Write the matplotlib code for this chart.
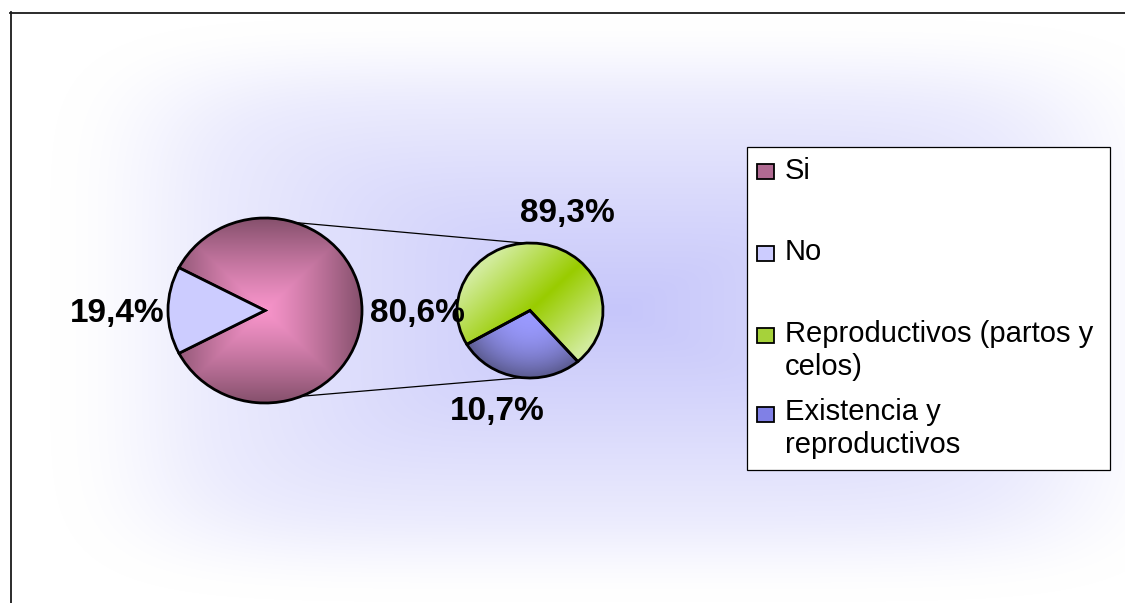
import numpy as np
import matplotlib.pyplot as plt
from matplotlib.colors import to_rgb

plt.rcParams['font.family'] = ['Liberation Sans', 'DejaVu Sans']

W, H = 1125, 603

# datos (porciones tal como se ven dibujadas; etiquetas como texto)
main_labels = ['Si', 'No']
main_values = [84.7, 15.3]
sub_labels = ['Reproductivos (partos y celos)', 'Existencia y reproductivos']
sub_values = [72.0, 28.0]
main_pct = ['80,6%', '19,4%']
sub_pct = ['89,3%', '10,7%']
legend_lines = [['Si'], ['No'], ['Reproductivos (partos y', 'celos)'],
                ['Existencia y', 'reproductivos']]
legend_colors = ['#b06a92', '#ccccff', '#a6d23a', '#8080e6']

left_box = (168, 218, 362, 403)
right_box = (457, 243, 603, 378)

fig = plt.figure(figsize=(W / 100, H / 100), dpi=100)

# fondo con brillo lila (degradado rectangular desde el centro)
bg = fig.add_axes([0, 0, 1, 1])
bg.set_xlim(0, W)
bg.set_ylim(H, 0)
bg.axis('off')
xx, yy = np.meshgrid(np.arange(W) + 0.5, np.arange(H) + 0.5)
u = np.abs(xx - 620) / 570
v = np.abs(yy - 310) / 292
d = (u ** 6 + v ** 6) ** (1 / 6)
e = np.clip((1 - d) / 0.3, 0, 1)
I = np.clip(1 - d, 0, 1) ** 0.85 * (e * e * (3 - 2 * e)) ** 0.5
full = np.array([198, 198, 250]) / 255
img = 1 - I[..., None] * (1 - full)
bg.imshow(img, extent=(0, W, H, 0), aspect='auto', interpolation='bilinear')
bg.plot([10.5, 10.5], [12, H], color='#1a1a1a', lw=1.3)
bg.plot([10, W], [12.5, 12.5], color='#1a1a1a', lw=1.3)


def px_axes(box):
    x0, y0, x1, y1 = box
    return fig.add_axes([x0 / W, 1 - y1 / H, (x1 - x0) / W, (y1 - y0) / H])


def edge_pt(box, ang):
    x0, y0, x1, y1 = box
    cx, cy = (x0 + x1) / 2, (y0 + y1) / 2
    a = np.radians(ang)
    return cx + (x1 - x0) / 2 * np.cos(a), cy - (y1 - y0) / 2 * np.sin(a)


def lerp(c1, c2, t):
    c1, c2 = np.array(to_rgb(c1)), np.array(to_rgb(c2))
    return c1 + (c2 - c1) * np.clip(t, 0, 1)[..., None]


g = np.linspace(-1, 1, 300)
X, Y = np.meshgrid(g, g)


def gradient_fill(ax, wedge, rgb):
    im = ax.imshow(rgb, extent=(-1, 1, -1, 1), origin='lower', aspect='auto',
                   interpolation='bilinear', zorder=0.5)
    im.set_clip_path(wedge)
    wedge.set_facecolor('none')


# conectores
for a1, a2 in [(72, 94), (-68, -96)]:
    p1 = edge_pt(left_box, a1)
    p2 = edge_pt(right_box, a2)
    bg.plot([p1[0], p2[0]], [p1[1], p2[1]], color='black', lw=0.9)

# pastel principal
ax1 = px_axes(left_box)
start1 = -main_values[0] / 100 * 180
w1, _ = ax1.pie(main_values, startangle=start1, colors=['#b06a92', '#ccccff'],
                wedgeprops=dict(edgecolor='black', linewidth=2))
gradient_fill(ax1, w1[0], lerp('#f794ca', '#85506c', np.maximum(np.abs(X), np.abs(Y)) ** 1.2))

# pastel secundario
ax2 = px_axes(right_box)
start2 = 80.5 - sub_values[0] / 100 * 180
w2, _ = ax2.pie(sub_values, startangle=start2, colors=['#a6d23a', '#8080e6'],
                wedgeprops=dict(edgecolor='black', linewidth=2))
gradient_fill(ax2, w2[0], lerp('#99cc00', '#d2ec9c', np.abs(X - Y) / 1.3))
gradient_fill(ax2, w2[1], lerp('#9a9aff', '#5a5a8e', np.hypot(X, Y) ** 2.2))

for ax, ws in [(ax1, w1), (ax2, w2)]:
    for w in ws:
        w.set_clip_on(False)
    ax.set_aspect('auto')
    ax.set_xlim(-1, 1)
    ax.set_ylim(-1, 1)

# textos
top = fig.add_axes([0, 0, 1, 1])
top.set_xlim(0, W)
top.set_ylim(H, 0)
top.axis('off')
top.patch.set_visible(False)

pct_pos = [(417, 322), (117, 322)]
for s, (x, y) in zip(main_pct, pct_pos):
    top.text(x, y, s, fontsize=24, fontweight='bold', ha='center', va='baseline')
sub_pos = [(567, 222), (497, 420)]
for s, (x, y) in zip(sub_pct, sub_pos):
    top.text(x, y, s, fontsize=24, fontweight='bold', ha='center', va='baseline')

# leyenda
top.add_patch(plt.Rectangle((747, 147), 363, 323, facecolor='white',
                            edgecolor='black', lw=0.9))
marker_y = [164, 246, 328, 407]
base_y = [[179], [260], [342, 375], [420, 453]]
for lines, c, my, bys in zip(legend_lines, legend_colors, marker_y, base_y):
    top.add_patch(plt.Rectangle((757, my), 17, 15, facecolor=c,
                                edgecolor='black', lw=1.3))
    for s, by in zip(lines, bys):
        top.text(785, by, s, fontsize=21, ha='left', va='baseline')

fig.savefig('out.png', dpi=100)
